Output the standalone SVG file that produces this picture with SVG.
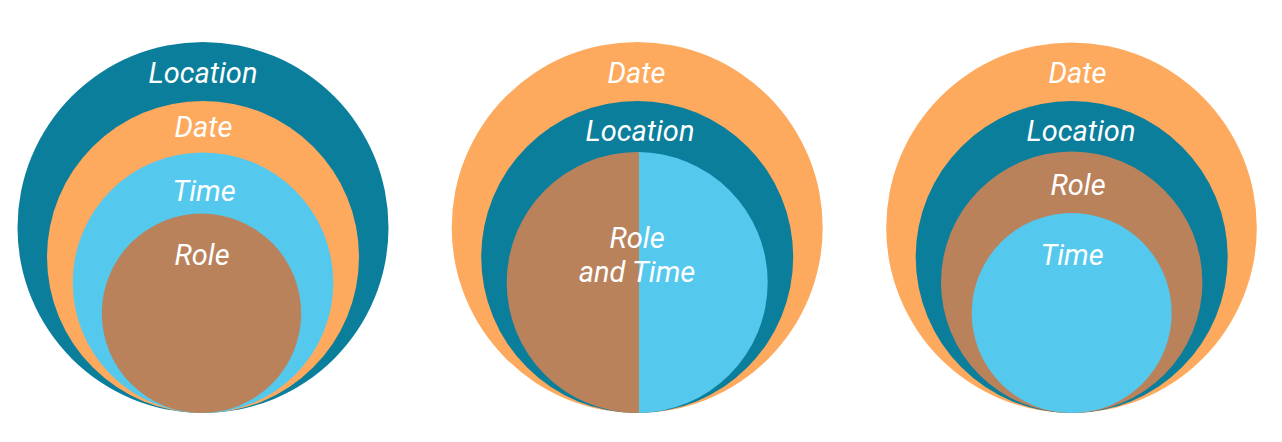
<svg xmlns="http://www.w3.org/2000/svg" width="1282" height="442" viewBox="0 0 1282 442">
<style>
.teal{fill:#0b7e9c}
.orange{fill:#fdaa5e}
.blue{fill:#54c8ed}
.brown{fill:#ba825b}
text{font-family:Roboto,"Open Sans","Liberation Sans",sans-serif;font-style:italic;font-size:29px;fill:#ffffff;text-anchor:middle}
</style>
<defs>
<clipPath id="leftHalf"><rect x="500" y="140" width="139" height="280"/></clipPath>
<clipPath id="rightHalf"><rect x="639" y="140" width="140" height="280"/></clipPath>
</defs>
<rect width="1282" height="442" fill="#ffffff"/>
<g id="diagram1">
<g id="d1-location"><circle class="teal" cx="203" cy="227.5" r="185.5"/><text x="203" y="83">Location</text></g>
<g id="d1-date"><circle class="orange" cx="203" cy="257" r="156"/><text x="203.5" y="137">Date</text></g>
<g id="d1-time"><circle class="blue" cx="203" cy="282.7" r="130.3"/><text x="204" y="201">Time</text></g>
<g id="d1-role"><circle class="brown" cx="201.5" cy="313.3" r="99.7"/><text x="202" y="265">Role</text></g>
</g>
<g id="diagram2">
<g id="d2-date"><circle class="orange" cx="637.2" cy="227.5" r="185.5"/><text x="636.5" y="83">Date</text></g>
<g id="d2-location"><circle class="teal" cx="637.2" cy="257" r="156"/><text x="640" y="141">Location</text></g>
<g id="d2-roletime">
<circle class="brown" cx="637.2" cy="282.5" r="130.5" clip-path="url(#leftHalf)"/>
<circle class="blue" cx="637.2" cy="282.5" r="130.5" clip-path="url(#rightHalf)"/>
<text x="637" y="248">Role</text>
<text x="637" y="282">and Time</text>
</g>
</g>
<g id="diagram3">
<g id="d3-date"><circle class="orange" cx="1071.5" cy="227.7" r="185.3"/><text x="1077.5" y="83">Date</text></g>
<g id="d3-location"><circle class="teal" cx="1071.7" cy="257" r="156"/><text x="1081" y="141">Location</text></g>
<g id="d3-role"><circle class="brown" cx="1071.7" cy="282.3" r="130.7"/><text x="1078" y="195">Role</text></g>
<g id="d3-time"><circle class="blue" cx="1071.7" cy="313" r="100"/><text x="1072" y="265">Time</text></g>
</g>
<g id="connectors"/>
</svg>
